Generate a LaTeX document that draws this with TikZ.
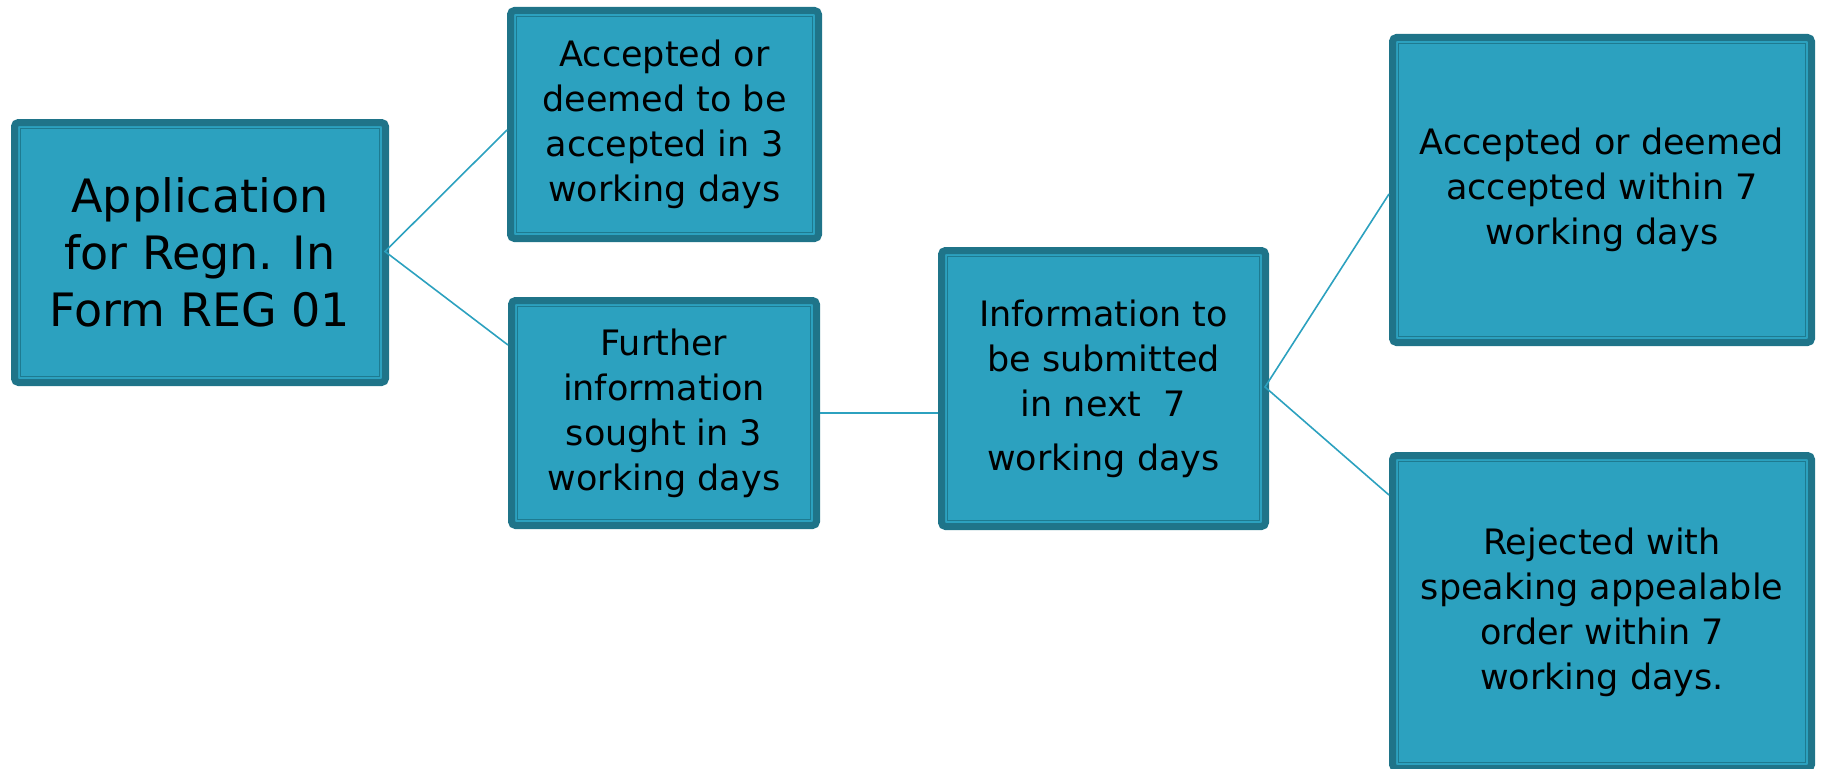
\documentclass[tikz,border=0pt]{standalone}
\usepackage{fontspec}
\setmainfont{DejaVu Sans}
\definecolor{boxfill}{HTML}{2CA1BF}
\definecolor{boxedge}{HTML}{1F7489}
\definecolor{innerline}{HTML}{1E7A90}
\definecolor{linkcol}{HTML}{2CA1BF}
\begin{document}
\begin{tikzpicture}[x=1pt,y=1pt,
  box/.style={draw=boxedge, fill=boxfill, line width=7pt, rounded corners=4pt,
    align=center, inner sep=0pt, text=black, font=\fontsize{35}{45}\selectfont},
  bigbox/.style={box, font=\fontsize{46}{57}\selectfont},
  inner frame/.style={draw=innerline, line width=1.5pt},
  link/.style={draw=linkcol, line width=1.6pt}]
\useasboundingbox (0,0) rectangle (1822,-768);

\node[bigbox, minimum width=371, minimum height=260] (app) at (200,-252.5)
  {Application\\for Regn. In\\Form REG 01};
\node[box, minimum width=308, minimum height=228] (acc3) at (664.5,-124.5)
  {Accepted or\\deemed to be\\accepted in 3\\working days};
\node[box, minimum width=305, minimum height=225] (further) at (664,-413)
  {Further\\information\\sought in 3\\working days};
\node[box, minimum width=324, minimum height=276] (info) at (1103.5,-388.5)
  {Information to\\be submitted\\in next~~7\\[9pt]working days};
\node[box, minimum width=419, minimum height=305] (acc7) at (1602,-190)
  {Accepted or deemed\\accepted within 7\\working days};
\node[box, minimum width=419, minimum height=313] (rej) at (1602,-612)
  {Rejected with\\speaking appealable\\order within 7\\working days.};

\foreach \n in {app,acc3,further,info,acc7,rej}
  \draw[inner frame] ([xshift=9.5,yshift=-9.5]\n.north west) rectangle ([xshift=-9.5,yshift=9.5]\n.south east);

\draw[link] ([yshift=-5.5]acc3.west) -- ([xshift=-4,yshift=1]app.east) -- ([yshift=68]further.west);
\draw[link] (further.east) -- (further.east -| info.west);
\draw[link] ([yshift=-4]acc7.west) -- ([xshift=-4,yshift=1.5]info.east) -- ([yshift=117]rej.west);
\end{tikzpicture}
\end{document}
